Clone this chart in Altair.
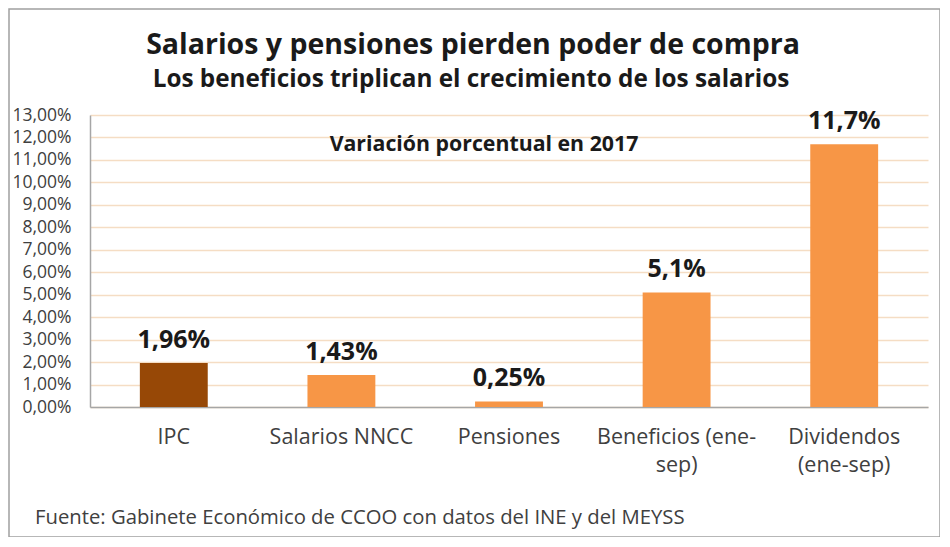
import altair as alt
import pandas as pd

categories = ["IPC", "Salarios NNCC", "Pensiones", "Beneficios (ene-sep)", "Dividendos (ene-sep)"]
values = [1.96, 1.43, 0.25, 5.1, 11.7]
value_labels = ["1,96%", "1,43%", "0,25%", "5,1%", "11,7%"]
y_ticks = list(range(0, 14))

title_text = "Salarios y pensiones pierden poder de compra"
subtitle_text = "Los beneficios triplican el crecimiento de los salarios"
note_text = "Variación porcentual en 2017"
source_text = "Fuente: Gabinete Económico de CCOO con datos del INE y del MEYSS"

df = pd.DataFrame({"cat": categories, "val": values, "lab": value_labels})

FONT = "Open Sans"
bar_colors = ["#974806", "#f79646", "#f79646", "#f79646", "#f79646"]

x_enc = alt.X(
    "cat:N",
    sort=categories,
    title=None,
    scale=alt.Scale(paddingInner=0.595, paddingOuter=0.2975),
    axis=alt.Axis(
        labelAngle=0,
        labelFont=FONT,
        labelFontSize=21.5,
        labelColor="#404040",
        labelPadding=19,
        labelLineHeight=28,
        ticks=False,
        domainColor="#a6a6a6",
        domainWidth=1.5,
        labelExpr="datum.label == 'Beneficios (ene-sep)' ? ['Beneficios (ene-', 'sep)'] : datum.label == 'Dividendos (ene-sep)' ? ['Dividendos', '(ene-sep)'] : datum.label",
    ),
)

y_enc = alt.Y(
    "val:Q",
    title=None,
    scale=alt.Scale(domain=[0, 13], nice=False),
    axis=alt.Axis(
        values=y_ticks,
        labelOverlap=False,
        labelExpr="replace(format(datum.value, '.2f'), '.', ',') + '%'",
        labelFont=FONT,
        labelFontSize=17.5,
        labelColor="#404040",
        labelPadding=19,
        ticks=False,
        domainColor="#a6a6a6",
        domainWidth=1.5,
        gridColor="#f5ddc4",
        gridWidth=1.5,
    ),
)

bars = alt.Chart(df).mark_bar().encode(
    x=x_enc,
    y=y_enc,
    color=alt.Color("cat:N", scale=alt.Scale(domain=categories, range=bar_colors), legend=None),
)

labels = alt.Chart(df).mark_text(
    font=FONT, fontSize=25, fontWeight="bold", color="#1a1a1a", baseline="bottom", dy=-10
).encode(x=x_enc, y=y_enc, text="lab:N")

def text_layer(txt, x, y, size, bold, color="#1a1a1a", align="center"):
    return alt.Chart(pd.DataFrame({"t": [txt]})).mark_text(
        font=FONT, fontSize=size, fontWeight="bold" if bold else "normal", color=color, align=align
    ).encode(x=alt.value(x), y=alt.value(y), text="t:N")

title = text_layer(title_text, 383, -70, 28.5, True)
subtitle = text_layer(subtitle_text, 381, -35, 24.3, True)
note = text_layer(note_text, 394, 30, 21.3, True)
footer = text_layer(source_text, -55, 403, 20.3, False, color="#404040", align="left")

frame = alt.Chart(pd.DataFrame({"a": [0]})).mark_rect(
    fill=None, fillOpacity=0, stroke="#a0a0a0", strokeWidth=1.5
).encode(x=alt.value(-81), x2=alt.value(850), y=alt.value(-106), y2=alt.value(422))

chart = alt.layer(frame, bars, labels, title, subtitle, note, footer).properties(
    width=838,
    height=292,
    padding={"left": 82, "top": 107, "right": 12, "bottom": 130},
    autosize=alt.AutoSizeParams(type="none"),
).configure(background="white", view=alt.ViewConfig(stroke=None))

chart.save("out.html", embed_options={"renderer": "svg", "actions": False})
